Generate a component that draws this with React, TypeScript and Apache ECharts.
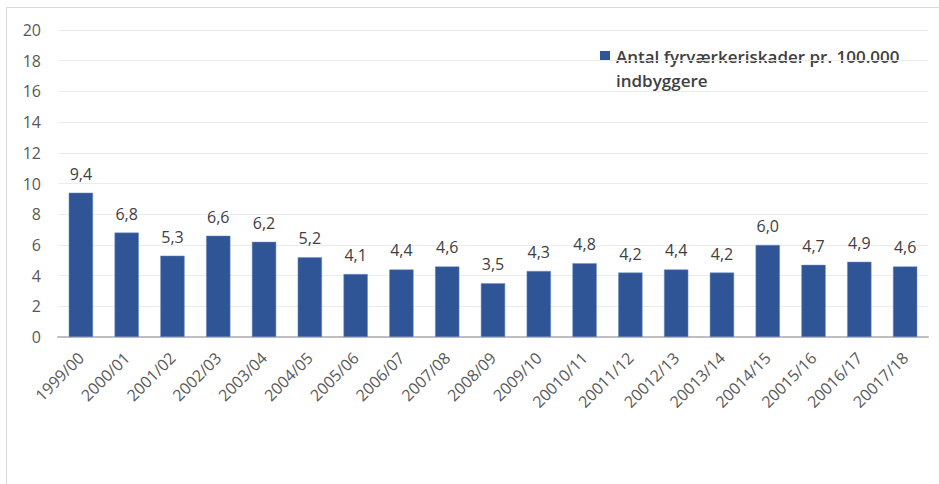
import React, { useEffect, useRef } from "react";
import * as echarts from "echarts";

const categories = [
  "1999/00", "2000/01", "2001/02", "2002/03", "2003/04", "2004/05", "2005/06",
  "2006/07", "2007/08", "2008/09", "2009/10", "20010/11", "20011/12", "20012/13",
  "20013/14", "20014/15", "20015/16", "20016/17", "20017/18",
];
const values = [9.4, 6.8, 5.3, 6.6, 6.2, 5.2, 4.1, 4.4, 4.6, 3.5, 4.3, 4.8, 4.2, 4.4, 4.2, 6.0, 4.7, 4.9, 4.6];
const seriesName = "Antal fyrværkeriskader pr. 100.000";
const seriesName2 = "indbyggere";
const yTicks = { min: 0, max: 20, interval: 2 };

export default function App() {
  const ref = useRef<HTMLDivElement>(null);
  useEffect(() => {
    if (!ref.current) return;
    const chart = echarts.init(ref.current, null, { renderer: "svg" });
    const font = "'Open Sans', 'Noto Sans', sans-serif";
    chart.setOption({
      animation: false,
      backgroundColor: "#ffffff",
      grid: { left: 58, right: 11, top: 30, bottom: 147, containLabel: false },
      xAxis: {
        type: "category",
        data: categories,
        axisLine: { lineStyle: { color: "#bfbfbf", width: 2 } },
        axisTick: { show: false },
        axisLabel: {
          rotate: 45,
          color: "#595959",
          fontSize: 16,
          fontFamily: font,
          margin: 18,
          interval: 0,
        },
      },
      yAxis: {
        type: "value",
        min: yTicks.min,
        max: yTicks.max,
        interval: yTicks.interval,
        axisLine: { show: false },
        axisTick: { show: false },
        splitLine: { lineStyle: { color: "#ececec", width: 1 } },
        axisLabel: { color: "#595959", fontSize: 16, fontFamily: font, margin: 17 },
      },
      series: [
        {
          type: "bar",
          name: seriesName,
          data: values,
          barWidth: "53%",
          itemStyle: { color: "#2f5597", borderColor: "#6f8fc4", borderWidth: 0.5 },
          label: {
            show: true,
            position: "top",
            distance: 11,
            color: "#404040",
            fontSize: 16,
            fontFamily: font,
            formatter: (p: any) => Number(p.value).toFixed(1).replace(".", ","),
          },
        },
      ],
      graphic: [
        {
          type: "polyline",
          shape: { points: [[6.5, 484], [6.5, 7.5], [939, 7.5]] },
          style: { stroke: "#d9d9d9", lineWidth: 1, fill: "none" },
          silent: true,
        },
        {
          type: "rect",
          shape: { x: 600, y: 51, width: 10, height: 10 },
          style: { fill: "#2f5597" },
        },
        {
          type: "text",
          x: 616,
          y: 56,
          style: {
            text: seriesName,
            fill: "#404040",
            font: `600 17px ${font}`,
            verticalAlign: "middle",
          },
        },
        {
          type: "text",
          x: 616,
          y: 80,
          style: {
            text: seriesName2,
            fill: "#404040",
            font: `600 17px ${font}`,
            verticalAlign: "middle",
          },
        },
      ],
    });
    return () => chart.dispose();
  }, []);
  return <div ref={ref} style={{ width: 939, height: 484, position: "absolute", left: 0, top: 0 }} />;
}
